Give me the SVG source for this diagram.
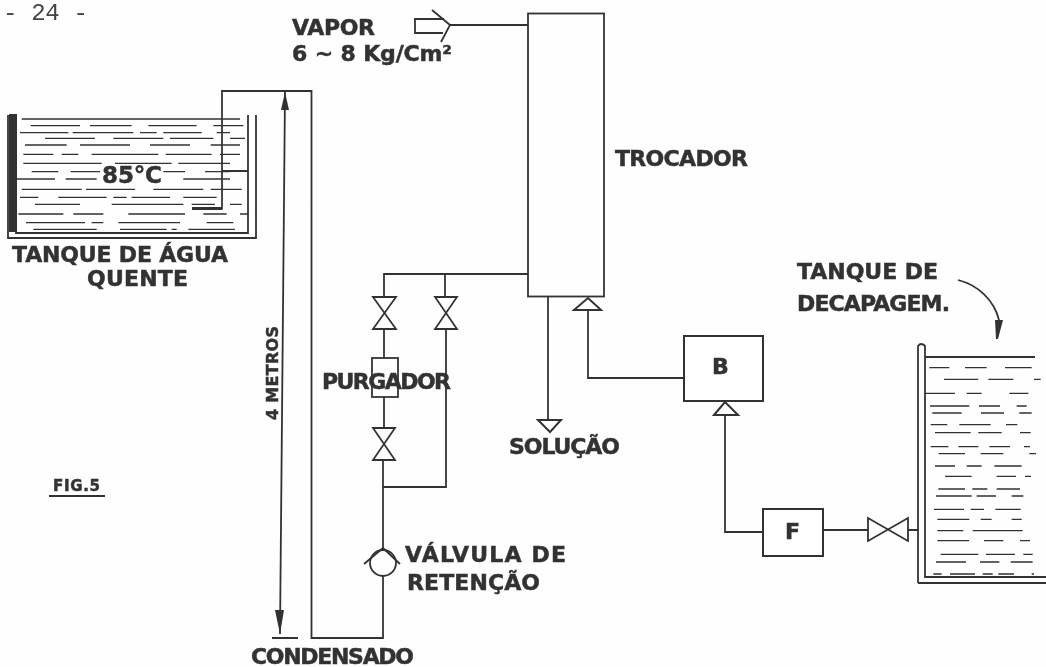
<svg xmlns="http://www.w3.org/2000/svg" width="1046" height="667" viewBox="0 0 1046 667">
<defs>
<filter id="scan" x="-2%" y="-2%" width="104%" height="104%"><feGaussianBlur stdDeviation="0.45"/></filter>
</defs>
<style>
.l{fill:none;stroke:#333;stroke-width:1.8}
.o{fill:#fff;stroke:#333;stroke-width:2}
.w{fill:none;stroke:#333;stroke-width:4.2}
.h{fill:#333}
.t{font-family:"DejaVu Sans",Arial,sans-serif;font-weight:700;font-size:22px;fill:#333;stroke:#333;stroke-width:.5}
.m{font-family:"Liberation Mono","Courier New",monospace;font-size:24px;fill:#444}
</style>
<rect width="1046" height="667" fill="#fefefe"/>
<g filter="url(#scan)">
<text class="m" x="3" y="20" textLength="85">- 24 -</text>
<g id="tanque-agua">
<path class="l" d="M8 115V238H256V115M16 115V233H248V115"/>
<path class="h" d="M9 114h8v118h-8z"/>
<g transform="scale(.33333)" class="w">
<path d="M65 357H720M92 377H240M270 377H395M445 377H590M640 377H730M60 398H205M218 398H400M420 398H470M490 398H605M650 398H690M135 415H285M340 415H490M510 415H640M690 415H735M75 435H200M240 435H390M450 435H570M632 435H720M70 463H160M185 463H235M275 463H475M497 463H635M660 463H720M70 490H305M345 490H515M535 490H690M95 515H175M212 515H300M490 515H555M615 515H690M50 537H165M197 537H290M550 537H690M65 568H245M258 568H405M460 568H610M632 568H725M60 592H115M175 592H320M340 592H380M395 592H510M550 592H650M105 613H240M335 613H550M575 613H645M690 613H725M55 642H190M220 642H310M385 642H555M610 642H680M720 642H745M78 668H255M275 668H310M355 668H540M620 668H700M100 688H290M360 688H500M515 688H530M565 688H705"/>
</g>
<text class="t" x="102" y="183" textLength="60" style="font-size:23px">85°C</text>
<text class="t" x="12" y="262" textLength="216">TANQUE DE ÁGUA</text>
<text class="t" x="87" y="286" textLength="101">QUENTE</text>
</g>
<g id="connectors">
<path class="l" d="M192 208.500H222V91H311.500V638H383V576M383 550V460M384 428V397M384 358V329M384 297V274H528M445 274V297M446 329V487H383M222 171H248"/>
<path d="M192 208.500H222" fill="none" stroke="#333" stroke-width="3"/>
<path class="l" d="M450 25H528M548 296V420M588 310V378H684M725 415V532H763M823 530H868M908 530H918"/>
<path class="l" d="M444 19H415V33H443M432 10L450 25L441 42"/>
<path class="o" d="M574 310L588 298L601 310Z"/>
<path class="o" d="M714 415L725 402L738 415Z"/>
<path class="o" d="M538 420H561L550 432Z"/>
<path class="l" d="M958 280C978 285 994 300 999 320"/>
<path class="h" d="M995 320H1003L998 339H996Z"/>
<path class="l" d="M285 92L280 634M272 638H298"/>
<path class="h" d="M285 92L289 110H281Z"/>
<path class="h" d="M280 634L275 610H284Z"/>
</g>
<g id="trocador"><rect class="l" x="528" y="13.500" width="76" height="283"/><text class="t" x="615" y="166" textLength="133">TROCADOR</text></g>
<g id="vapor"><text class="t" x="292" y="35" textLength="83">VAPOR</text><text class="t" x="292" y="61" textLength="160">6 ~ 8 Kg/Cm²</text></g>
<g id="valvula-1"><path class="l" d="M373 297H396L373 329H396Z"/></g>
<g id="valvula-2"><path class="l" d="M435 297H457L435 329H457Z"/></g>
<g id="valvula-3"><path class="l" d="M373 428H395L373 460H395Z"/></g>
<g id="purgador"><rect class="l" x="372" y="358" width="26" height="39"/><text class="t" x="322" y="389" textLength="129">PURGADOR</text></g>
<g id="valvula-retencao"><circle class="l" cx="383" cy="563" r="13"/><path class="l" d="M364 564L383 548L400 564"/><text class="t" x="405" y="562" textLength="161">VÁLVULA DE</text><text class="t" x="407" y="590" textLength="133">RETENÇÃO</text></g>
<g id="solucao"><text class="t" x="509" y="454" textLength="111">SOLUÇÃO</text></g>
<g id="condensado"><text class="t" x="251" y="664" textLength="163">CONDENSADO</text></g>
<g id="bomba"><rect class="o" x="684" y="336" width="79" height="65"/><text class="t" x="712" y="374">B</text></g>
<g id="filtro"><rect class="o" x="763" y="509" width="60" height="47"/><text class="t" x="785" y="539">F</text></g>
<g id="valvula-4"><path class="l" d="M868 518V541L908 518V541Z"/></g>
<g id="tanque-decapagem">
<path class="l" d="M918 583V346Q921 342 925 346V577H1046M918 583H1046"/>
<path class="l" d="M925 357H1035"/>
<g transform="translate(660 320) scale(.33333)" class="w">
<path d="M808 143H868M915 143H980M1035 143H1115M852 178H955M985 178H1060M1122 178H1142M795 220H885M920 220H965M1048 220H1105M810 258H928M957 258H1020M1070 258H1100M817 279H905M963 279H1032M1078 279H1115M812 314H862M898 314H992M1038 314H1072M825 338H932M955 338H1025M1080 338H1112M812 380H865M895 380H955M988 380H1050M1092 380H1110M836 401H915M962 401H1030M1108 401H1128M825 438H885M920 438H965M1003 438H1085M855 469H935M1010 469H1068M1095 469H1113M835 507H915M937 507H982M1010 507H1080M828 528H935M950 528H1008M1055 528H1090M822 568H912M932 568H972M1006 568H1082M832 598H928M962 598H995M1055 598H1085M832 632H910M938 632H1088M832 662H927M972 662H1030M1080 662H1110M842 703H955M978 703H1065M1090 703H1118M828 726H918M960 726H1018M1052 726H1118M820 762H845M870 762H945M968 762H998M1015 762H1062M1115 762H1122"/>
</g>
<text class="t" x="797" y="279" textLength="141">TANQUE DE</text>
<text class="t" x="797" y="311" textLength="153">DECAPAGEM.</text>
</g>
<g id="cota"><text class="t" transform="translate(278 420) rotate(-90)" textLength="94" style="font-size:16px">4 METROS</text></g>
<g id="figura"><text class="t" x="53" y="491" textLength="47" style="font-size:15px">FIG.5</text><path class="l" d="M49 496H105"/></g>
</g>
</svg>
